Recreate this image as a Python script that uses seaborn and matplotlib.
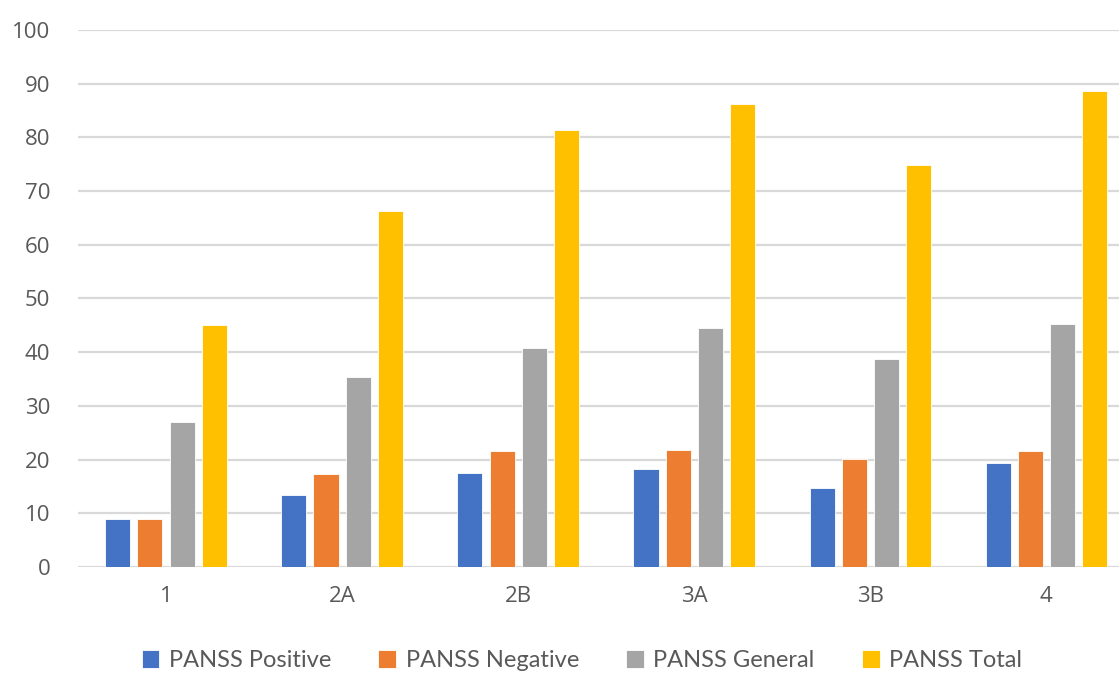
import pandas as pd
import matplotlib.pyplot as plt
import seaborn as sns

# values
stages = ["1", "2A", "2B", "3A", "3B", "4"]
positive = [9.0, 13.5, 17.5, 18.3, 14.8, 19.3]
negative = [9.0, 17.3, 21.6, 21.8, 20.1, 21.6]
general = [27.0, 35.3, 40.8, 44.5, 38.7, 45.3]
total = [45.0, 66.3, 81.3, 86.2, 74.8, 88.7]

series = ["PANSS Positive", "PANSS Negative", "PANSS General", "PANSS Total"]
colors = ["#4472C4", "#ED7D31", "#A5A5A5", "#FFC000"]

rows = []
for name, vals in zip(series, [positive, negative, general, total]):
    for s, v in zip(stages, vals):
        rows.append({"Stage": s, "Score": v, "Scale": name})
df = pd.DataFrame(rows)

sns.set_style("white")
plt.rcParams["font.family"] = ["Open Sans", "DejaVu Sans"]

fig = plt.figure(figsize=(11.19, 6.75), dpi=100)
ax = fig.add_axes([0.0697, 0.16, 0.944, 0.7956])

sns.barplot(data=df, x="Stage", y="Score", hue="Scale", order=stages,
            hue_order=series, palette=colors, saturation=1, width=0.73, gap=0.22,
            edgecolor="white", linewidth=0.6, ax=ax, legend=True)

ax.set_ylim(0, 100)
ax.set_xlim(-0.5, 5.5)
ax.set_yticks(range(0, 101, 10))
ax.yaxis.grid(True, color="#d9d9d9", linewidth=1.6)
ax.set_axisbelow(True)
for sp in ax.spines.values():
    sp.set_visible(False)
ax.tick_params(axis="both", length=0, labelsize=16, labelcolor="#595959")
ax.tick_params(axis="y", pad=20)
ax.tick_params(axis="x", pad=14)
ax.set_xlabel("")
ax.set_ylabel("")

# legend sits at the very bottom edge, like the reference
handles, labels = ax.get_legend_handles_labels()
ax.get_legend().remove()
fig.legend(handles, labels, loc="upper center", bbox_to_anchor=(0.52, 0.068),
           ncol=4, frameon=False, handlelength=0.75, handleheight=0.75,
           handletextpad=0.4, columnspacing=2.0, labelcolor="#595959",
           prop={"family": "Lato", "size": 17})

fig.savefig("out.png", dpi=100)
